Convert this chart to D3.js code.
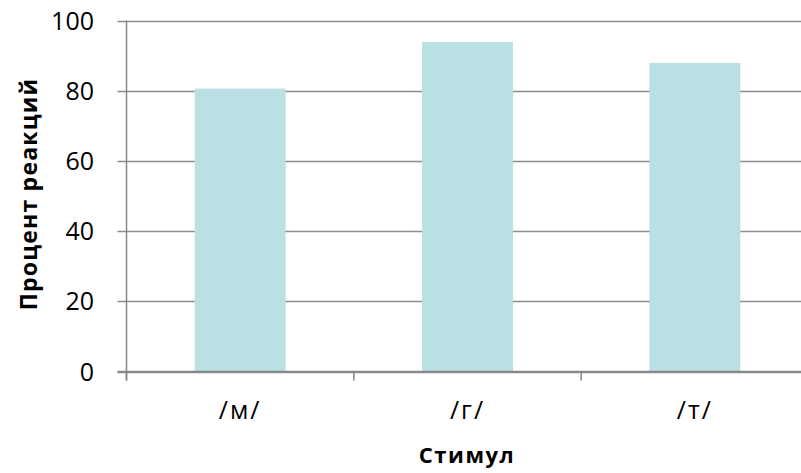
<!DOCTYPE html>
<html><head><meta charset="utf-8">
<script src="https://cdn.jsdelivr.net/npm/d3@7"></script>
<style>body{margin:0;background:#fff}svg{display:block}</style>
</head><body>
<svg id="c" width="801" height="473"></svg>
<script>
const categories = ["/м/", "/г/", "/т/"];
const values = [80.6, 93.9, 87.9];
const yTicks = [0, 20, 40, 60, 80, 100];
const yTitle = "Процент реакций";
const xTitle = "Стимул";

(function () {
const svg = d3.select("#c");
const font = "'Open Sans', sans-serif";
const pLeft = 126.5, pRight = 808.5, pTop = 20.5, pBottom = 371.5;

const x = d3.scaleBand().domain(categories).range([pLeft, pRight]).paddingInner(0.6).paddingOuter(0.3);
const y = d3.scaleLinear().domain([0, 100]).range([pBottom, pTop]);

// gridlines
svg.append("g").selectAll("line").data(yTicks).join("line")
  .attr("x1", pLeft - 9).attr("x2", 801)
  .attr("y1", d => Math.round(y(d)) + 0.5).attr("y2", d => Math.round(y(d)) + 0.5)
  .attr("stroke", "#8c8c8c").attr("stroke-width", 1.5);

// bars
svg.append("g").selectAll("rect").data(values).join("rect")
  .attr("x", (d, i) => x(categories[i]))
  .attr("width", x.bandwidth())
  .attr("y", d => y(d))
  .attr("height", d => y(0) - y(d))
  .attr("fill", "#bae0e3");

// y axis line
svg.append("line").attr("x1", pLeft).attr("x2", pLeft).attr("y1", pTop).attr("y2", pBottom + 9)
  .attr("stroke", "#868686").attr("stroke-width", 1.5);
// x axis baseline
svg.append("line").attr("x1", pLeft - 9).attr("x2", 801).attr("y1", pBottom).attr("y2", pBottom)
  .attr("stroke", "#868686").attr("stroke-width", 1.5);
// category boundary ticks
const bounds = d3.range(categories.length + 1).map(i => pLeft + i * (pRight - pLeft) / categories.length);
svg.append("g").selectAll("line").data(bounds).join("line")
  .attr("x1", d => d).attr("x2", d => d).attr("y1", pBottom).attr("y2", pBottom + 9)
  .attr("stroke", "#868686").attr("stroke-width", 1.5);

// y tick labels
svg.append("g").selectAll("text").data(yTicks).join("text")
  .attr("x", 94).attr("y", d => y(d)).attr("dy", "0.36em")
  .attr("text-anchor", "end").attr("font-family", font).attr("font-size", 25)
  .attr("fill", "#000").text(d => d);

// category labels
svg.append("g").selectAll("text").data(categories).join("text")
  .attr("x", d => x(d) + x.bandwidth() / 2).attr("y", 419)
  .attr("text-anchor", "middle").attr("font-family", font).attr("font-size", 25)
  .attr("letter-spacing", 2)
  .attr("fill", "#000").text(d => d);

// axis titles
svg.append("text").attr("x", 467).attr("y", 463).attr("text-anchor", "middle")
  .attr("font-family", font).attr("font-weight", "bold").attr("font-size", 22)
  .attr("letter-spacing", 1.5).text(xTitle);
svg.append("text").attr("transform", `translate(37,194) rotate(-90)`)
  .attr("text-anchor", "middle").attr("font-family", font).attr("font-weight", "bold")
  .attr("font-size", 23).attr("letter-spacing", 1.2).text(yTitle);
})();
</script>
</body></html>
